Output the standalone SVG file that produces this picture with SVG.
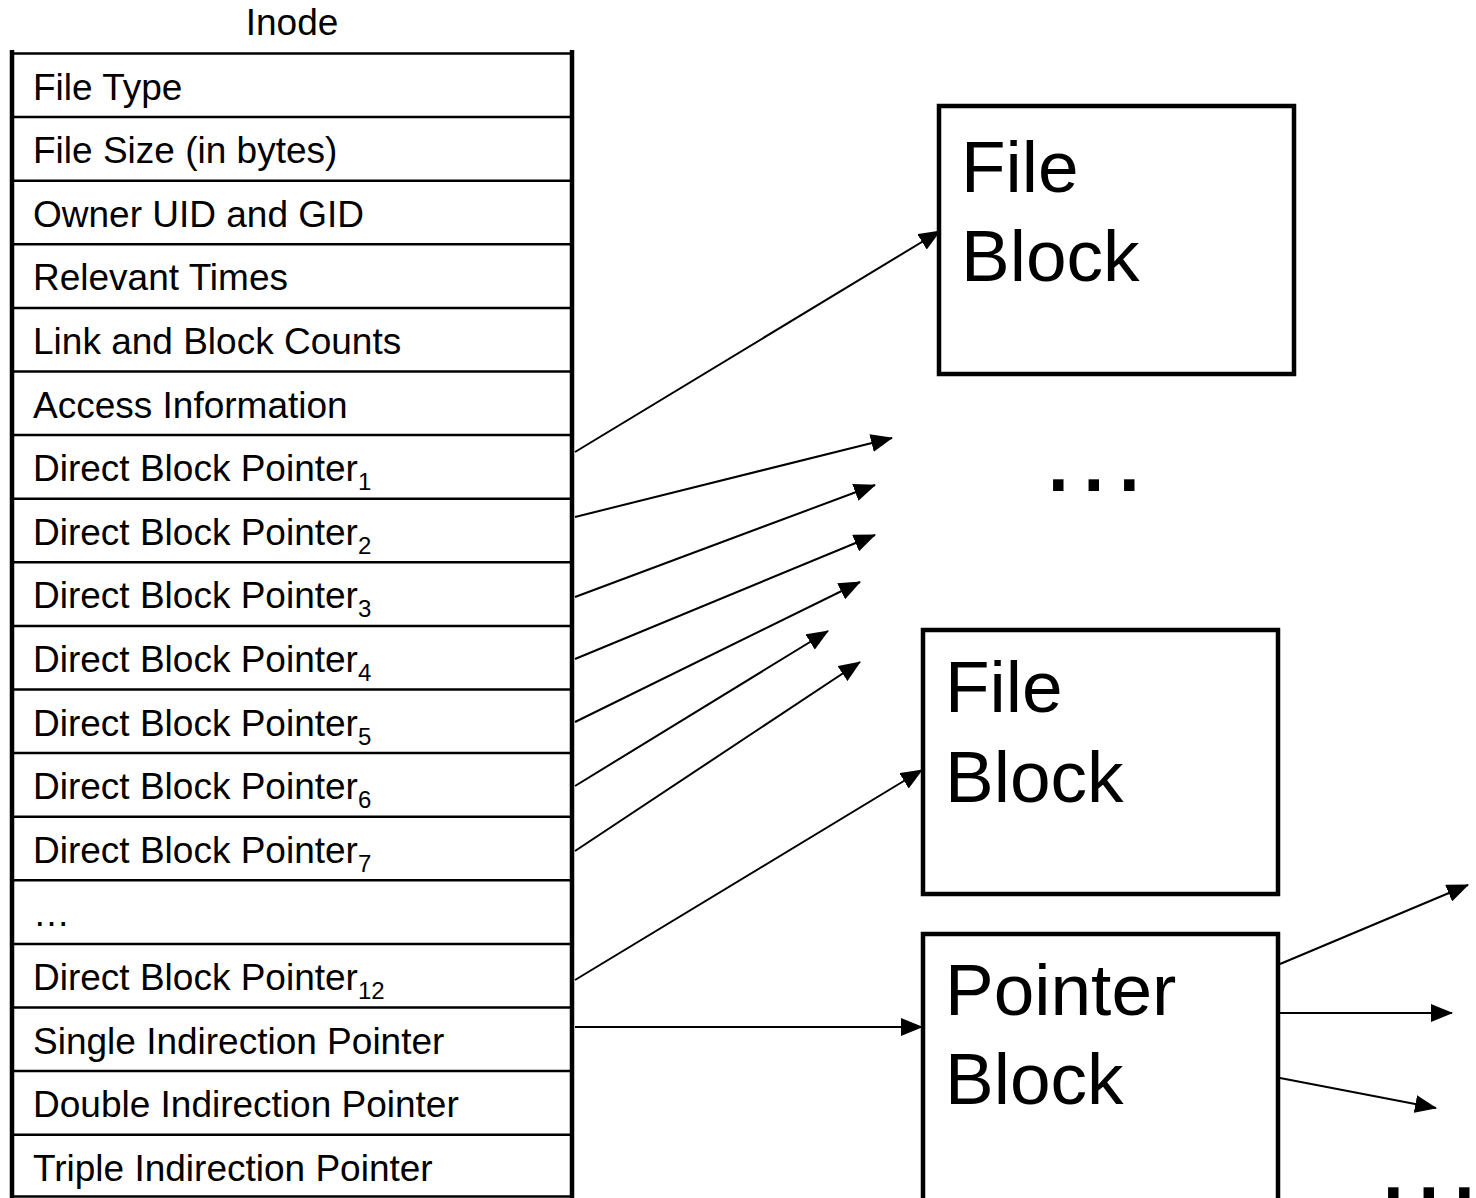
<svg xmlns="http://www.w3.org/2000/svg" width="1476" height="1198" viewBox="0 0 1476 1198">
<style>
text{font-family:"Liberation Sans",Arial,sans-serif;fill:#000}
.row{font-size:37px}
.sub{font-size:24px}
.big{font-size:73px}
.dots{font-size:110px;letter-spacing:5px}
.hl{stroke:#000;stroke-width:2.5}
.side{stroke:#000;stroke-width:4.5}
.box{fill:#fff;stroke:#000;stroke-width:4.5}
.conn line{stroke:#000;stroke-width:2;marker-end:url(#ah)}
</style>
<defs>
<marker id="ah" markerUnits="userSpaceOnUse" markerWidth="22" markerHeight="18" refX="21" refY="9" orient="auto">
<path d="M0,0 L22,9 L0,18 z" fill="#000"/>
</marker>
</defs>
<rect width="1476" height="1198" fill="#fff"/>
<g id="inode">
<text x="292" y="35" class="row" text-anchor="middle">Inode</text>
<line class="hl" x1="12" y1="53.5" x2="572" y2="53.5"/>
<line class="hl" x1="12" y1="117.1" x2="572" y2="117.1"/>
<line class="hl" x1="12" y1="180.7" x2="572" y2="180.7"/>
<line class="hl" x1="12" y1="244.3" x2="572" y2="244.3"/>
<line class="hl" x1="12" y1="307.9" x2="572" y2="307.9"/>
<line class="hl" x1="12" y1="371.5" x2="572" y2="371.5"/>
<line class="hl" x1="12" y1="435.1" x2="572" y2="435.1"/>
<line class="hl" x1="12" y1="498.7" x2="572" y2="498.7"/>
<line class="hl" x1="12" y1="562.3" x2="572" y2="562.3"/>
<line class="hl" x1="12" y1="625.9" x2="572" y2="625.9"/>
<line class="hl" x1="12" y1="689.5" x2="572" y2="689.5"/>
<line class="hl" x1="12" y1="753.1" x2="572" y2="753.1"/>
<line class="hl" x1="12" y1="816.7" x2="572" y2="816.7"/>
<line class="hl" x1="12" y1="880.3" x2="572" y2="880.3"/>
<line class="hl" x1="12" y1="943.9" x2="572" y2="943.9"/>
<line class="hl" x1="12" y1="1007.5" x2="572" y2="1007.5"/>
<line class="hl" x1="12" y1="1071.1" x2="572" y2="1071.1"/>
<line class="hl" x1="12" y1="1134.7" x2="572" y2="1134.7"/>
<line class="hl" x1="12" y1="1196.5" x2="572" y2="1196.5"/>
<line class="side" x1="12" y1="50" x2="12" y2="1198"/>
<line class="side" x1="572" y1="50" x2="572" y2="1198"/>
<text class="row" x="33" y="99.5">File Type</text>
<text class="row" x="33" y="163.1">File Size (in bytes)</text>
<text class="row" x="33" y="226.7">Owner UID and GID</text>
<text class="row" x="33" y="290.3">Relevant Times</text>
<text class="row" x="33" y="353.9">Link and Block Counts</text>
<text class="row" x="33" y="417.5">Access Information</text>
<text class="row" x="33" y="481.1">Direct Block Pointer<tspan class="sub" dy="9">1</tspan></text>
<text class="row" x="33" y="544.7">Direct Block Pointer<tspan class="sub" dy="9">2</tspan></text>
<text class="row" x="33" y="608.3">Direct Block Pointer<tspan class="sub" dy="9">3</tspan></text>
<text class="row" x="33" y="671.9">Direct Block Pointer<tspan class="sub" dy="9">4</tspan></text>
<text class="row" x="33" y="735.5">Direct Block Pointer<tspan class="sub" dy="9">5</tspan></text>
<text class="row" x="33" y="799.1">Direct Block Pointer<tspan class="sub" dy="9">6</tspan></text>
<text class="row" x="33" y="862.7">Direct Block Pointer<tspan class="sub" dy="9">7</tspan></text>
<text class="row" x="33" y="926.3">…</text>
<text class="row" x="33" y="989.9">Direct Block Pointer<tspan class="sub" dy="9">12</tspan></text>
<text class="row" x="33" y="1053.5">Single Indirection Pointer</text>
<text class="row" x="33" y="1117.1">Double Indirection Pointer</text>
<text class="row" x="33" y="1180.7">Triple Indirection Pointer</text>
</g>
<g id="fileblock1">
<rect class="box" x="939" y="106" width="355" height="268"/>
<text class="big" x="961" y="192">File</text>
<text class="big" x="961" y="281">Block</text>
</g>
<g id="fileblock2">
<rect class="box" x="923" y="630" width="355" height="264"/>
<text class="big" x="945" y="712">File</text>
<text class="big" x="945" y="802">Block</text>
</g>
<g id="pointerblock">
<rect class="box" x="923" y="934" width="355" height="280"/>
<text class="big" x="945" y="1015">Pointer</text>
<text class="big" x="945" y="1104">Block</text>
</g>
<g id="ellipsis1">
<text class="dots" x="1043" y="491">...</text>
</g>
<g id="ellipsis2">
<text class="dots" x="1378" y="1199">...</text>
</g>
<g class="conn" id="connectors">
<line x1="575" y1="452" x2="940" y2="231"/>
<line x1="575" y1="517" x2="892" y2="438"/>
<line x1="575" y1="597" x2="875" y2="485"/>
<line x1="575" y1="659" x2="875" y2="535"/>
<line x1="575" y1="722" x2="860" y2="582"/>
<line x1="575" y1="786" x2="828" y2="631"/>
<line x1="575" y1="851" x2="860" y2="662"/>
<line x1="575" y1="980" x2="922" y2="770"/>
<line x1="575" y1="1027" x2="922" y2="1027"/>
<line x1="1280" y1="964" x2="1468" y2="885"/>
<line x1="1280" y1="1013" x2="1452" y2="1013"/>
<line x1="1280" y1="1078" x2="1436" y2="1108"/>
</g>
</svg>
